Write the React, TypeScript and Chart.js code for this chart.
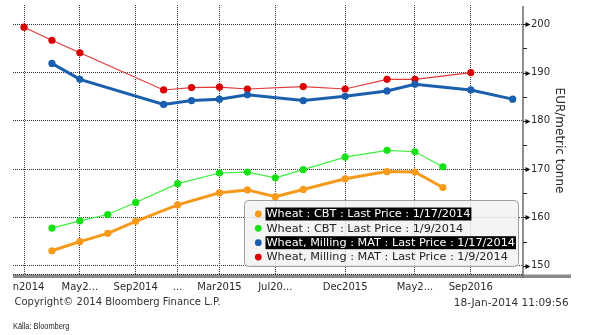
import React, { useEffect, useRef } from "react";
import { Chart, registerables } from "chart.js";

Chart.register(...registerables);

// Months counted from Jan 2014 (0)
const tickMonths = [0, 4, 8, 11, 14, 18, 23, 28, 32];
const tickLabels = ["Jan2014", "May2...", "Sep2014", "...", "Mar2015", "Jul20...", "Dec2015", "May2...", "Sep2016"];
const yTicks = [150, 155, 160, 165, 170, 175, 180, 185, 190, 195, 200];

const cbtMonths = [2, 4, 6, 8, 11, 14, 16, 18, 20, 23, 26, 28, 30];
const cbtJan17 = [153.1, 155.0, 156.7, 159.2, 162.6, 165.1, 165.7, 164.3, 165.8, 168.0, 169.5, 169.4, 166.2];
const cbtJan9 = [157.8, 159.3, 160.6, 163.1, 167.0, 169.2, 169.4, 168.2, 169.9, 172.5, 173.9, 173.6, 170.5];

const matJan17Months = [2, 4, 10, 12, 14, 16, 20, 23, 26, 28, 32, 35];
const matJan17 = [191.9, 188.6, 183.4, 184.2, 184.5, 185.4, 184.2, 185.1, 186.2, 187.6, 186.4, 184.5];

const matJan9Months = [0, 2, 4, 10, 12, 14, 16, 20, 23, 26, 28, 32];
const matJan9 = [199.4, 196.7, 194.1, 186.4, 186.9, 187.0, 186.6, 187.1, 186.6, 188.6, 188.6, 190.0];

const seriesNames = [
  "Wheat : CBT : Last Price : 1/17/2014",
  "Wheat : CBT : Last Price : 1/9/2014",
  "Wheat, Milling : MAT : Last Price : 1/17/2014",
  "Wheat, Milling : MAT : Last Price : 1/9/2014",
];
const seriesColors = ["#f59a1a", "#18e018", "#1a5fae", "#d80000"];
const lineColors = ["#f59a1a", "#3cf03c", "#1a5fae", "#e03a3a"];
const highlighted = [true, false, true, false];

const FONT = '"DejaVu Sans", sans-serif';

function pts(ms: number[], vs: number[]) {
  return ms.map((m, i) => ({ x: m, y: vs[i] }));
}

const decorPlugin = {
  id: "decor",
  afterDraw(chart: any) {
    const ctx = chart.ctx as CanvasRenderingContext2D;
    const ca = chart.chartArea;
    const ys = chart.scales.y;
    ctx.save();
    // bottom bar
    ctx.fillStyle = "#8a8a8a";
    ctx.fillRect(ca.left, 274.5, 571 - ca.left, 3.5);
    ctx.strokeStyle = "#222";
    ctx.lineWidth = 1;
    ctx.setLineDash([1, 1]);
    ctx.beginPath();
    ctx.moveTo(ca.left, 274.5);
    ctx.lineTo(ca.right, 274.5);
    ctx.stroke();
    ctx.setLineDash([]);
    // right axis line
    ctx.strokeStyle = "#6a6a6a";
    ctx.lineWidth = 1.5;
    ctx.beginPath();
    ctx.moveTo(ca.right, ca.top + 1);
    ctx.lineTo(ca.right, 278);
    ctx.stroke();
    // ticks
    ctx.fillStyle = "#111";
    ctx.strokeStyle = "#222";
    ctx.lineWidth = 1;
    yTicks.forEach((v) => {
      const y = Math.round(ys.getPixelForValue(v)) + 0.5;
      if (v % 10 === 0) {
        ctx.beginPath();
        ctx.moveTo(ca.right, y);
        ctx.lineTo(ca.right + 3, y);
        ctx.stroke();
        ctx.beginPath();
        ctx.moveTo(ca.right + 2.5, y - 2.5);
        ctx.lineTo(ca.right + 7.5, y);
        ctx.lineTo(ca.right + 2.5, y + 2.5);
        ctx.closePath();
        ctx.fill();
      } else {
        ctx.beginPath();
        ctx.moveTo(ca.right, y);
        ctx.lineTo(ca.right + 4, y);
        ctx.stroke();
      }
    });
    // clip first label at left edge
    ctx.fillStyle = "#fff";
    ctx.fillRect(0, 279, ca.left - 1, 16);

    // legend
    const lx = 244.5, ly = 200.5, lw = 274, lh = 66;
    const r = 4;
    ctx.beginPath();
    ctx.moveTo(lx + r, ly);
    ctx.lineTo(lx + lw - r, ly);
    ctx.quadraticCurveTo(lx + lw, ly, lx + lw, ly + r);
    ctx.lineTo(lx + lw, ly + lh - r);
    ctx.quadraticCurveTo(lx + lw, ly + lh, lx + lw - r, ly + lh);
    ctx.lineTo(lx + r, ly + lh);
    ctx.quadraticCurveTo(lx, ly + lh, lx, ly + lh - r);
    ctx.lineTo(lx, ly + r);
    ctx.quadraticCurveTo(lx, ly, lx + r, ly);
    ctx.closePath();
    ctx.fillStyle = "rgba(242,242,242,0.82)";
    ctx.fill();
    ctx.strokeStyle = "#a0a0a0";
    ctx.lineWidth = 1;
    ctx.stroke();

    ctx.font = `11.25px ${FONT}`;
    ctx.textBaseline = "middle";
    ctx.textAlign = "left";
    seriesNames.forEach((name, i) => {
      const cy = 214 + i * 14.35;
      ctx.fillStyle = seriesColors[i];
      ctx.beginPath();
      ctx.arc(258.3, cy, 3.4, 0, Math.PI * 2);
      ctx.fill();
      const tx = 266.5;
      const w = ctx.measureText(name).width;
      if (highlighted[i]) {
        ctx.fillStyle = "#000";
        ctx.fillRect(tx - 1, cy - 6.5, w + 2, 13);
        ctx.fillStyle = "#fff";
      } else {
        ctx.fillStyle = "#222";
      }
      ctx.fillText(name, tx, cy + 0.5);
    });
    ctx.restore();
  },
};

export default function App() {
  const ref = useRef<HTMLCanvasElement | null>(null);

  useEffect(() => {
    if (!ref.current) return;
    const datasets = [
      { data: pts(cbtMonths, cbtJan17), lw: 3 },
      { data: pts(cbtMonths, cbtJan9), lw: 1.2 },
      { data: pts(matJan17Months, matJan17), lw: 3 },
      { data: pts(matJan9Months, matJan9), lw: 1.2 },
    ].map((d, i) => ({
      label: seriesNames[i],
      data: d.data,
      borderColor: lineColors[i],
      backgroundColor: seriesColors[i],
      pointBackgroundColor: seriesColors[i],
      pointBorderColor: seriesColors[i],
      pointBorderWidth: 0,
      pointRadius: 3.6,
      borderWidth: d.lw,
      tension: 0,
      fill: false,
    }));

    const chart = new Chart(ref.current, {
      type: "line",
      data: { datasets },
      plugins: [decorPlugin],
      options: {
        responsive: false,
        animation: false,
        layout: { padding: { left: 13, top: 5, right: 0, bottom: 0 } },
        plugins: { legend: { display: false }, tooltip: { enabled: false }, title: { display: false } },
        scales: {
          x: {
            type: "linear",
            min: -0.788,
            max: 35.74,
            afterBuildTicks: (s: any) => {
              s.ticks = tickMonths.map((v) => ({ value: v }));
            },
            afterFit: (s: any) => {
              s.height = 59;
              s.paddingLeft = 0;
              s.paddingRight = 0;
              s.paddingTop = 0;
              s.paddingBottom = 0;
            },
            ticks: {
              autoSkip: false,
              maxRotation: 0,
              minRotation: 0,
              padding: 5,
              color: "#2a2a2a",
              font: { family: FONT, size: 10 },
              callback: (_v: any, i: number) => tickLabels[i],
            },
            grid: { color: "#333", lineWidth: 1, drawTicks: false },
            border: { display: false, dash: [1, 1] },
          },
          y: {
            type: "linear",
            position: "right",
            min: 147.87,
            max: 204.0,
            afterBuildTicks: (s: any) => {
              s.ticks = yTicks.map((v) => ({ value: v }));
            },
            afterFit: (s: any) => {
              s.width = 67;
              s.paddingLeft = 0;
              s.paddingRight = 0;
              s.paddingTop = 0;
              s.paddingBottom = 0;
            },
            ticks: {
              padding: 8,
              color: "#2a2a2a",
              font: { family: FONT, size: 10 },
              callback: (v: any) => (Number(v) % 10 === 0 ? String(v) : ""),
            },
            grid: {
              drawTicks: false,
              lineWidth: 1,
              color: (c: any) => (c.tick && c.tick.value % 10 === 0 ? "#333" : "rgba(0,0,0,0)"),
            },
            border: { display: false, dash: [1, 1] },
            title: {
              display: true,
              text: "EUR/metric tonne",
              color: "#2a2a2a",
              font: { family: FONT, size: 12 },
              padding: { top: 23.5, bottom: 0 },
            },
          },
        },
      },
    } as any);
    return () => chart.destroy();
  }, []);

  return (
    <div style={{ position: "absolute", left: 0, top: 0, width: 590, height: 335, background: "#fff", overflow: "hidden" }}>
      <canvas ref={ref} width={590} height={335} style={{ position: "absolute", left: 0, top: 0, width: 590, height: 335 }} />
      <div style={{ position: "absolute", left: 14.5, top: 296, font: `10px ${FONT}`, lineHeight: "12px", color: "#333", whiteSpace: "nowrap" }}>
        Copyright© 2014 Bloomberg Finance L.P.
      </div>
      <div style={{ position: "absolute", right: 21.3, top: 296, font: `10.5px ${FONT}`, lineHeight: "12px", color: "#333", whiteSpace: "nowrap" }}>
        18-Jan-2014 11:09:56
      </div>
      <div
        style={{
          position: "absolute",
          left: 13,
          top: 320,
          font: '9.5px "Liberation Sans", sans-serif',
          lineHeight: "12px",
          color: "#222",
          whiteSpace: "nowrap",
          transform: "scaleX(0.78)",
          transformOrigin: "left center",
        }}
      >
        Källa: Bloomberg
      </div>
    </div>
  );
}
